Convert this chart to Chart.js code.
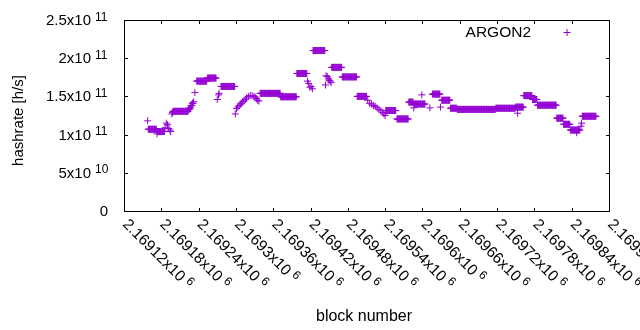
<!DOCTYPE html>
<html>
<head>
<meta charset="utf-8">
<script src="https://cdn.jsdelivr.net/npm/chart.js@4.4.1/dist/chart.umd.min.js"></script>
<style>
  html, body { margin: 0; padding: 0; background: #fff; }
  canvas { display: block; }
</style>
</head>
<body>
<canvas id="chart" width="640" height="330"></canvas>
<script>
// each run = consecutive blocks that share one hashrate estimate (value in 1e9 h/s)
const runStart = [2169158, 2169159, 2169173, 2169174, 2169186, 2169188, 2169190, 2169192, 2169194, 2169195,
  2169197, 2169198, 2169199, 2169224, 2169226, 2169228, 2169230, 2169232, 2169234, 2169237,
  2169254, 2169270, 2169272, 2169273, 2169276, 2169299, 2169301, 2169303, 2169305, 2169307,
  2169309, 2169311, 2169313, 2169315, 2169317, 2169320, 2169323, 2169326, 2169329, 2169331,
  2169333, 2169335, 2169337, 2169339, 2169372, 2169398, 2169415, 2169417, 2169419, 2169421,
  2169423, 2169424, 2169444, 2169445, 2169447, 2169449, 2169450, 2169452, 2169453, 2169454,
  2169471, 2169495, 2169512, 2169515, 2169518, 2169521, 2169524, 2169527, 2169530, 2169533,
  2169536, 2169538, 2169540, 2169541, 2169559, 2169578, 2169586, 2169587, 2169599, 2169612,
  2169616, 2169629, 2169631, 2169645, 2169656, 2169718, 2169753, 2169750, 2169763, 2169777,
  2169785, 2169816, 2169827, 2169838, 2169848, 2169855, 2169856, 2169857];
const runEnd = [2169158, 2169172, 2169173, 2169185, 2169186, 2169188, 2169190, 2169192, 2169194, 2169195,
  2169197, 2169198, 2169223, 2169225, 2169227, 2169229, 2169231, 2169232, 2169234, 2169253,
  2169268, 2169270, 2169272, 2169273, 2169298, 2169299, 2169301, 2169303, 2169305, 2169307,
  2169309, 2169311, 2169313, 2169315, 2169317, 2169320, 2169323, 2169326, 2169329, 2169331,
  2169333, 2169335, 2169337, 2169371, 2169397, 2169414, 2169415, 2169417, 2169419, 2169421,
  2169423, 2169443, 2169444, 2169445, 2169447, 2169449, 2169450, 2169452, 2169453, 2169470,
  2169494, 2169510, 2169512, 2169515, 2169518, 2169521, 2169524, 2169527, 2169530, 2169533,
  2169536, 2169538, 2169540, 2169557, 2169577, 2169585, 2169586, 2169604, 2169599, 2169612,
  2169628, 2169629, 2169644, 2169655, 2169717, 2169749, 2169753, 2169762, 2169776, 2169784,
  2169815, 2169826, 2169837, 2169853, 2169848, 2169855, 2169856, 2169879];
const runValue = [118, 107, 101, 104, 109, 115, 113, 108, 106, 104,
  127, 129, 130.5, 133, 135, 138, 141, 143, 155, 170,
  174, 146, 152, 154, 163, 127, 134, 136, 138, 140,
  141, 143, 144, 146, 148, 150, 151, 151, 150, 149,
  147, 145, 144, 154, 149.5, 180, 170, 167, 162, 163,
  160, 210, 165, 177, 176, 173, 171, 170, 168, 188,
  175.5, 150, 145, 141, 140, 138, 137, 135, 133, 131,
  129, 127, 125, 131.5, 120.5, 142.5, 135, 140, 152, 135,
  153, 136, 145, 134.5, 133, 134.5, 128, 136, 151, 146,
  138.5, 121.5, 113.5, 106, 102.5, 111, 115, 124];

const xTickValues = [2169120, 2169180, 2169240, 2169300, 2169360, 2169420, 2169480,
  2169540, 2169600, 2169660, 2169720, 2169780, 2169840, 2169900];
const xTickMantissa = ["2.16912x10", "2.16918x10", "2.16924x10", "2.1693x10", "2.16936x10", "2.16942x10", "2.16948x10",
  "2.16954x10", "2.1696x10", "2.16966x10", "2.16972x10", "2.16978x10", "2.16984x10", "2.1699x10"];
const xTickExponent = "6";
const yTickValues = [0, 5e10, 1e11, 1.5e11, 2e11, 2.5e11];
const yTickMantissa = ["0", "5x10", "1x10", "1.5x10", "2x10", "2.5x10"];
const yTickExponent = ["", "10", "11", "11", "11", "11"];

const seriesName = "ARGON2";
const xTitle = "block number";
const yTitle = "hashrate [h/s]";

const PURPLE = "rgb(148, 0, 211)";
const FONT = '"Liberation Sans", Arial, sans-serif';

const points = [];
runStart.forEach((s, i) => {
  for (let b = s; b <= runEnd[i]; b++) points.push({ x: b, y: runValue[i] * 1e9 });
});

// gnuplot-like frame, inward ticks, superscript tick labels, titles and key
const gnuplotFrame = {
  id: "gnuplotFrame",
  afterDatasetsDraw(chart) {
    const { ctx, chartArea: a, scales: { x, y } } = chart;
    ctx.save();
    ctx.strokeStyle = "#000";
    ctx.fillStyle = "#000";
    ctx.lineWidth = 1;
    ctx.strokeRect(a.left + 0.5, a.top + 0.5, a.right - a.left, a.bottom - a.top);

    ctx.beginPath();
    yTickValues.forEach((v) => {
      const py = Math.round(y.getPixelForValue(v)) + 0.5;
      ctx.moveTo(a.left, py); ctx.lineTo(a.left + 4, py);
      ctx.moveTo(a.right + 1, py); ctx.lineTo(a.right - 3, py);
    });
    xTickValues.forEach((v) => {
      const px = Math.round(x.getPixelForValue(v)) + 0.5;
      ctx.moveTo(px, a.bottom + 1); ctx.lineTo(px, a.bottom - 3);
      ctx.moveTo(px, a.top); ctx.lineTo(px, a.top + 4);
    });
    ctx.stroke();

    // y tick labels
    ctx.textBaseline = "alphabetic";
    yTickValues.forEach((v, i) => {
      const py = y.getPixelForValue(v);
      ctx.font = `15px ${FONT}`;
      if (!yTickExponent[i]) {
        ctx.textAlign = "right";
        ctx.fillText(yTickMantissa[i], a.left - 16, py + 5);
        return;
      }
      ctx.textAlign = "right";
      ctx.fillText(yTickMantissa[i], a.left - 33, py + 5);
      ctx.font = `12px ${FONT}`;
      ctx.textAlign = "left";
      ctx.fillText(yTickExponent[i], a.left - 29, py + 0.5);
    });

    // x tick labels, rotated by -45 like gnuplot
    xTickValues.forEach((v, i) => {
      const px = x.getPixelForValue(v);
      ctx.save();
      ctx.translate(px + 1, a.bottom + 11);
      ctx.rotate(Math.PI / 4);
      ctx.textAlign = "left";
      ctx.textBaseline = "middle";
      ctx.font = `15.5px ${FONT}`;
      ctx.fillText(xTickMantissa[i], 0, 0);
      const w = ctx.measureText(xTickMantissa[i]).width;
      ctx.font = `12px ${FONT}`;
      ctx.fillText(xTickExponent, w + 4, -4);
      ctx.restore();
    });

    // axis titles
    ctx.textAlign = "center";
    ctx.font = `16px ${FONT}`;
    ctx.fillText(xTitle, 364, 321);
    ctx.font = `15px ${FONT}`;
    ctx.save();
    ctx.translate(23, 120.5);
    ctx.rotate(-Math.PI / 2);
    ctx.fillText(yTitle, 0, 0);
    ctx.restore();

    // key
    ctx.textAlign = "right";
    ctx.font = `15.5px ${FONT}`;
    ctx.fillText(seriesName, 531, 37);
    ctx.strokeStyle = PURPLE;
    ctx.beginPath();
    ctx.moveTo(563.5, 32.5); ctx.lineTo(570.5, 32.5);
    ctx.moveTo(567, 29); ctx.lineTo(567, 36);
    ctx.stroke();
    ctx.restore();
  },
};

new Chart(document.getElementById("chart"), {
  type: "scatter",
  data: {
    datasets: [{
      label: seriesName,
      data: points,
      pointStyle: "cross",
      pointRadius: 3.5,
      pointHoverRadius: 3.5,
      pointBorderWidth: 1,
      borderColor: PURPLE,
      backgroundColor: PURPLE,
    }],
  },
  options: {
    responsive: false,
    animation: false,
    devicePixelRatio: 1,
    events: [],
    layout: { padding: { left: 124, top: 20, right: 31, bottom: 119 } },
    plugins: { legend: { display: false }, tooltip: { enabled: false } },
    scales: {
      x: { type: "linear", display: false, min: 2169120, max: 2169900 },
      y: { type: "linear", display: false, min: 0, max: 2.5e11 },
    },
  },
  plugins: [gnuplotFrame],
});
</script>
</body>
</html>
